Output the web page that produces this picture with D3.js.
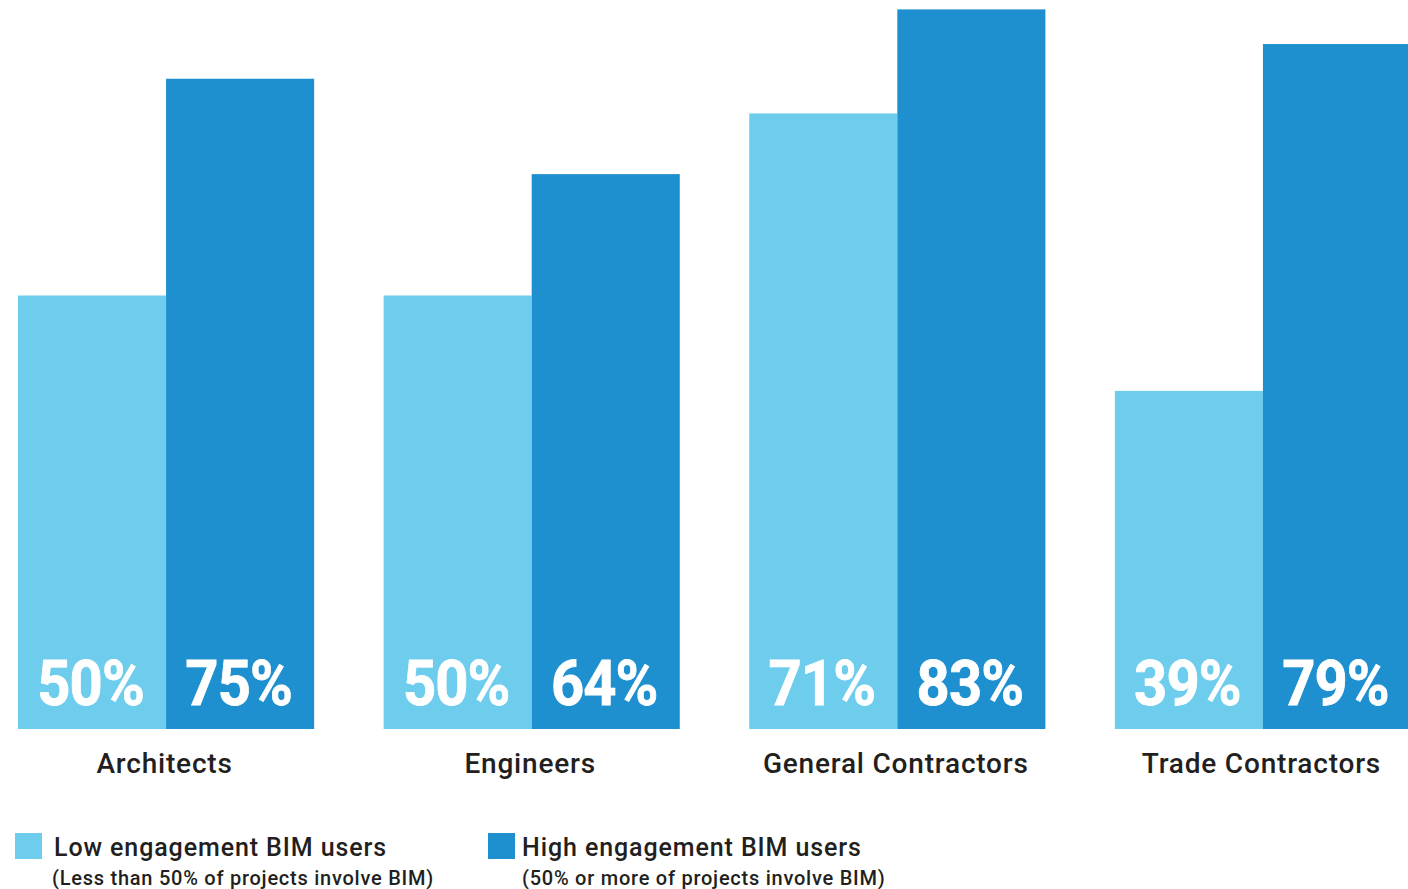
<!DOCTYPE html>
<html><head><meta charset="utf-8">
<script src="https://cdn.jsdelivr.net/npm/d3@7"></script>
<style>
html,body{margin:0;padding:0;background:#fff;overflow:hidden;}
svg{display:block;}
</style></head>
<body>
<svg id="chart" width="1408" height="889"></svg>
<script>
const categories = ["Architects", "Engineers", "General Contractors", "Trade Contractors"];
const seriesNames = ["Low engagement BIM users", "High engagement BIM users"];
const seriesNotes = ["(Less than 50% of projects involve BIM)", "(50% or more of projects involve BIM)"];
const lowValues = [50, 50, 71, 39];
const highValues = [75, 64, 83, 79];
const colors = ["#6ecdec", "#1f90cf"];

const svg = d3.select("#chart");
const x0 = d3.scaleBand().domain(categories).range([18, 1411]).paddingInner(0.19).paddingOuter(0);
const x1 = d3.scaleBand().domain([0, 1]).range([0, x0.bandwidth()]).padding(0);
const y = d3.scaleLinear().domain([0, 100]).range([729, -138]);

const rows = categories.map((c, i) => ({cat: c, vals: [lowValues[i], highValues[i]]}));

const g = svg.selectAll("g.grp").data(rows).join("g")
  .attr("class", "grp")
  .attr("transform", d => `translate(${x0(d.cat)},0)`);

g.selectAll("rect").data(d => d.vals.map((v, j) => ({v, j}))).join("rect")
  .attr("x", d => x1(d.j))
  .attr("width", x1.bandwidth())
  .attr("y", d => y(d.v))
  .attr("height", d => y(0) - y(d.v))
  .attr("fill", d => colors[d.j]);

g.selectAll("text.val").data(d => d.vals.map((v, j) => ({v, j}))).join("text")
  .attr("class", "val")
  .attr("transform", d => `translate(${x1(d.j) + x1.bandwidth() / 2 - 1.5},705) scale(0.92,1)`)
  .attr("text-anchor", "middle")
  .attr("fill", "#fff")
  .style("font-family", "Roboto, sans-serif")
  .style("font-weight", "bold")
  .style("font-size", "63px")
  .style("letter-spacing", "-1px")
  .style("stroke", "#fff")
  .style("stroke-width", "0.8px")
  .text(d => d.v + "%");

g.append("text")
  .attr("x", x0.bandwidth() / 2 - 1.5)
  .attr("y", 773)
  .attr("text-anchor", "middle")
  .attr("fill", "#231f20")
  .style("font-family", "Roboto, sans-serif")
  .style("font-weight", "500")
  .style("font-size", "28px")
  .style("letter-spacing", "0.8px")
  .text(d => d.cat);

// legend
const legX = [15, 488];
const legTextX = [39, 34];
const legNoteX = [37, 34];
const leg = svg.selectAll("g.leg").data(seriesNames).join("g")
  .attr("class", "leg")
  .attr("transform", (d, i) => `translate(${legX[i]},833)`);
leg.append("rect").attr("width", 27).attr("height", 26).attr("fill", (d, i) => colors[i]);
leg.append("text")
  .attr("x", (d, i) => legTextX[i]).attr("y", 23)
  .attr("fill", "#231f20")
  .style("font-family", "Roboto, sans-serif")
  .style("font-weight", "500")
  .style("font-size", "25px")
  .style("letter-spacing", "0.9px")
  .text(d => d);
leg.append("text")
  .attr("x", (d, i) => legNoteX[i]).attr("y", 52)
  .attr("fill", "#231f20")
  .style("font-family", "Roboto, sans-serif")
  .style("font-weight", "500")
  .style("font-size", "20px")
  .style("letter-spacing", "0.75px")
  .text((d, i) => seriesNotes[i]);
</script>
</body></html>
